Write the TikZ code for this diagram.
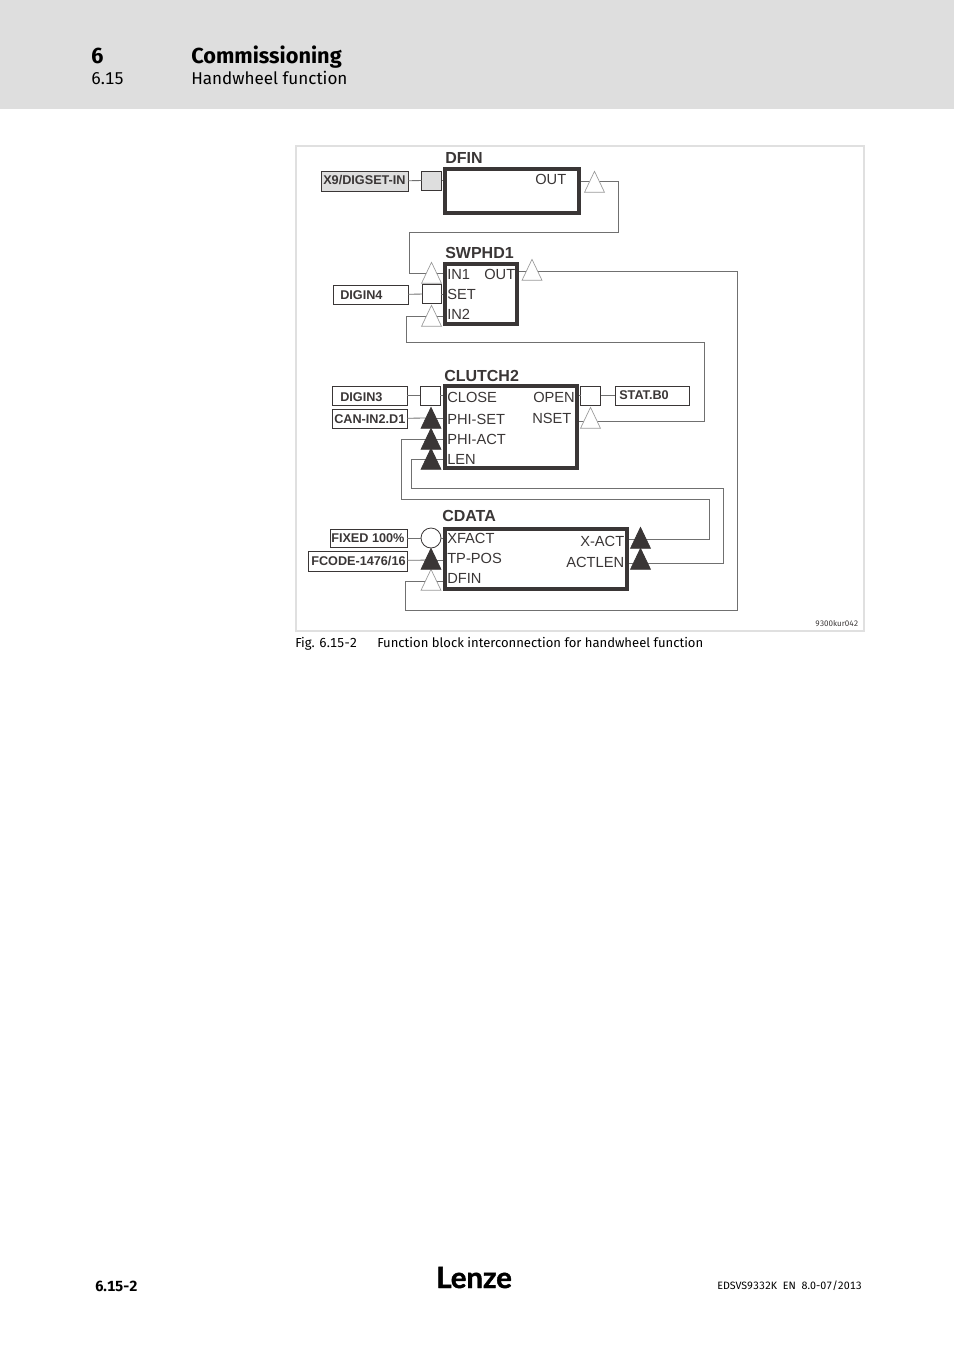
\documentclass[tikz,border=0pt]{standalone}
\usepackage{fontspec}
\setmainfont{Liberation Sans}
\newfontfamily\pagefont[Numbers=Tabular]{Fira Sans}
\newfontfamily\logofont[FakeBold=1.5]{Lato}
\usetikzlibrary{shapes.geometric}
\definecolor{headgray}{HTML}{DEDEDE}
\definecolor{framegray}{HTML}{E0E0E0}
\definecolor{darkink}{HTML}{3A3636}
\definecolor{wiregray}{HTML}{707070}

\begin{document}
\begin{tikzpicture}[
        x=.75pt, y=-.75pt,
        sized/.style 2 args={minimum width=#1*.75pt, minimum height=#2*.75pt, inner sep=0pt, outer sep=0pt},
        blockbox/.style 2 args={sized={#1}{#2}, draw=darkink, line width=2.3pt, outer sep=1.15pt},
        iobox/.style 2 args={sized={#1}{#2}, draw=darkink, line width=.7pt},
        portsq/.style={sized={#1}{19}, draw=darkink, line width=.7pt},
        opentri/.style={isosceles triangle, isosceles triangle apex angle=55, isosceles triangle stretches, shape border rotate=90, sized={20}{21}, draw=black!40, line width=.5pt, fill=white},
        solidtri/.style={opentri, draw=darkink, fill=darkink},
        wire/.style={draw=wiregray, line width=.6pt},
        title/.style={anchor=base west, inner sep=0pt, font=\fontsize{12}{12}\selectfont\bfseries, text=darkink},
        port/.style={anchor=base west, inner sep=0pt, font=\fontsize{11}{11}\selectfont, text=darkink},
        iotext/.style={anchor=base west, inner sep=0pt, font=\fontsize{9.5}{10}\selectfont\bfseries, text=darkink},
        pagetext/.style={anchor=base west, inner sep=0pt, font=\pagefont\fontsize{#1}{#1}\selectfont, text=black}
        ]
            \useasboundingbox (0,0) rectangle (954,1350);

            \node[sized={954}{109}, fill=headgray, anchor=north west] (header) at (0,0) {};
            \node[pagetext=16.3] (chapNo) at (91,63) {\bfseries 6};
            \node[pagetext=16.3] (chapName) at (191,63) {\bfseries Commissioning};
            \node[pagetext=12.8] (secNo) at (91,84) {6.15};
            \node[pagetext=12.8] (secName) at (191,84) {Handwheel function};

            \node[sized={568}{485}, draw=framegray, line width=1.5pt, anchor=north west] (frame) at (296,146) {};

            \node[blockbox={134}{44}] (dfinBlock) at (512,191) {};
            \node[blockbox={72}{60}] (swphdBlock) at (481,294) {};
            \node[blockbox={132}{82}] (clutchBlock) at (511,427) {};
            \node[blockbox={182}{60}] (cdataBlock) at (536,559) {};

            \node[title] (dfinTitle) at (445,163) {DFIN};
            \node[title] (swphdTitle) at (445,258) {SWPHD1};
            \node[title] (clutchTitle) at (444,381) {CLUTCH2};
            \node[title] (cdataTitle) at (442,521) {CDATA};

            \node[port] (dfinOutTxt) at (535,184) {OUT};
            \node[port] (in1Txt) at (447,279) {IN1};
            \node[port] (swOutTxt) at (484,279) {OUT};
            \node[port] (setTxt) at (447,299) {SET};
            \node[port] (in2Txt) at (447,319) {IN2};
            \node[port] (closeTxt) at (447,402) {CLOSE};
            \node[port] (openTxt) at (533,402) {OPEN};
            \node[port] (phiSetTxt) at (447,424) {PHI-SET};
            \node[port] (nsetTxt) at (532,423) {NSET};
            \node[port] (phiActTxt) at (447,444) {PHI-ACT};
            \node[port] (lenTxt) at (447,464) {LEN};
            \node[port] (xfactTxt) at (447,543) {XFACT};
            \node[port] (tpposTxt) at (447,563) {TP-POS};
            \node[port] (cdFinTxt) at (447,583) {DFIN};
            \node[port] (xactTxt) at (580,546) {X-ACT};
            \node[port] (actlenTxt) at (566,567) {ACTLEN};

            \node[iobox={87}{20}, fill=headgray] (x9Box) at (364.5,181) {};
            \node[iobox={75}{19}] (digin4Box) at (370.5,294.5) {};
            \node[iobox={75}{19}] (digin3Box) at (369.5,395.5) {};
            \node[iobox={75}{19}] (canBox) at (369.5,418.5) {};
            \node[iobox={77}{18}] (fixedBox) at (368.5,538) {};
            \node[iobox={99}{20}] (fcodeBox) at (357.5,561) {};
            \node[iobox={74}{19}] (statBox) at (652,395.5) {};

            \node[iotext] (x9Txt) at (323,184.5) {X9/DIGSET-IN};
            \node[iotext] (digin4Txt) at (340,299) {DIGIN4};
            \node[iotext] (digin3Txt) at (340,401) {DIGIN3};
            \node[iotext] (canTxt) at (334,423) {CAN-IN2.D1};
            \node[iotext] (fixedTxt) at (331,542) {FIXED 100\%};
            \node[iotext] (fcodeTxt) at (311,565) {FCODE-1476/16};
            \node[iotext] (statTxt) at (619,399) {STAT.B0};

            \node[portsq=20, fill=headgray] (x9Sq) at (431.5,180.5) {};
            \node[portsq=19] (digin4Sq) at (431.5,294) {};
            \node[portsq=20] (digin3Sq) at (430,395.5) {};
            \node[portsq=20] (statSq) at (590.5,395.5) {};
            \node[circle, sized={20}{20}, draw=darkink, line width=.6pt] (fixedDot) at (431,538) {};

            \coordinate (dfinOutPin) at (594.5,181);
            \coordinate (in1Pin) at (431.5,273);
            \coordinate (swOutPin) at (532,271);
            \coordinate (in2Pin) at (431.5,316);
            \coordinate (nsetPin) at (590.5,421);
            \coordinate (cdFinPin) at (431,581);
            \coordinate (phiSetPin) at (431,418);
            \coordinate (phiActPin) at (431,439);
            \coordinate (lenPin) at (431,459);
            \coordinate (tpposPin) at (431,560);
            \coordinate (xactPin) at (640.5,539);
            \coordinate (actlenPin) at (640.5,563);

            \draw[wire] (x9Box) -- (x9Sq);
            \draw[wire] (digin4Box) -- (digin4Sq);
            \draw[wire] (digin3Box) -- (digin3Sq);
            \draw[wire] (canBox) -- (phiSetPin);
            \draw[wire] (fixedBox) -- (fixedDot);
            \draw[wire] (fcodeBox) -- (tpposPin);
            \draw[wire] (statSq) -- (statBox);

            \draw[wire] (x9Sq) -- (x9Sq -| dfinBlock.west);
            \draw[wire] (digin4Sq) -- (digin4Sq -| swphdBlock.west);
            \draw[wire] (digin3Sq) -- (digin3Sq -| clutchBlock.west);
            \draw[wire] (statSq) -- (statSq -| clutchBlock.east);
            \draw[wire] (fixedDot) -- (fixedDot -| cdataBlock.west);
            \draw[wire] (dfinOutPin) -- (dfinOutPin -| dfinBlock.east);
            \draw[wire] (in1Pin) -- (in1Pin -| swphdBlock.west);
            \draw[wire] (swOutPin) -- (swOutPin -| swphdBlock.east);
            \draw[wire] (in2Pin) -- (in2Pin -| swphdBlock.west);
            \draw[wire] (nsetPin) -- (nsetPin -| clutchBlock.east);
            \draw[wire] (phiSetPin) -- (phiSetPin -| clutchBlock.west);
            \draw[wire] (phiActPin) -- (phiActPin -| clutchBlock.west);
            \draw[wire] (lenPin) -- (lenPin -| clutchBlock.west);
            \draw[wire] (tpposPin) -- (tpposPin -| cdataBlock.west);
            \draw[wire] (cdFinPin) -- (cdFinPin -| cdataBlock.west);
            \draw[wire] (xactPin) -- (xactPin -| cdataBlock.east);
            \draw[wire] (actlenPin) -- (actlenPin -| cdataBlock.east);

            \draw[wire] (dfinOutPin) -- (618,181) -- (618,232) -- (409,232) -- (409,273) -- (in1Pin);
            \draw[wire] (swOutPin) -- (737,271) -- (737,610) -- (405,610) -- (405,581) -- (cdFinPin);
            \draw[wire] (nsetPin) -- (704,421) -- (704,342) -- (406,342) -- (406,316) -- (in2Pin);
            \draw[wire] (xactPin) -- (709,539) -- (709,499) -- (401,499) -- (401,439) -- (phiActPin);
            \draw[wire] (actlenPin) -- (723,563) -- (723,488) -- (411,488) -- (411,459) -- (lenPin);

            \node[opentri] (dfinOutTri) at (594.5,186) {};
            \node[opentri] (in1Tri) at (431.5,277) {};
            \node[opentri] (swOutTri) at (532,274) {};
            \node[opentri] (in2Tri) at (431.5,320) {};
            \node[opentri] (nsetTri) at (590.5,422) {};
            \node[opentri] (cdFinTri) at (431,584) {};
            \node[solidtri] (phiSetTri) at (431,422) {};
            \node[solidtri] (phiActTri) at (431,443) {};
            \node[solidtri] (lenTri) at (431,463) {};
            \node[solidtri] (tpposTri) at (431,563) {};
            \node[solidtri] (xactTri) at (640.5,542) {};
            \node[solidtri] (actlenTri) at (640.5,563) {};

            \node[anchor=base west, inner sep=0pt, font=\pagefont\fontsize{6}{6}\selectfont, text=darkink] (drawNo) at (815,626) {9300kur042};
            \node[pagetext=9.8] (figNo) at (295,647) {Fig. 6.15-2};
            \node[pagetext=9.8] (figText) at (377,647) {Function block interconnection for handwheel function};

            \node[anchor=base west, inner sep=0pt, font=\logofont\bfseries\fontsize{22}{22}\selectfont, text=black] (logo) at (436,1288) {Lenze};
            \node[pagetext=11] (pageNo) at (95,1291) {\bfseries 6.15-2};
            \node[anchor=base east, inner sep=0pt, font=\pagefont\fontsize{8}{8}\selectfont, text=black] (docNo) at (862,1289) {EDSVS9332K\ \ EN\ \ 8.0-07/2013};
        \end{tikzpicture}
\end{document}
